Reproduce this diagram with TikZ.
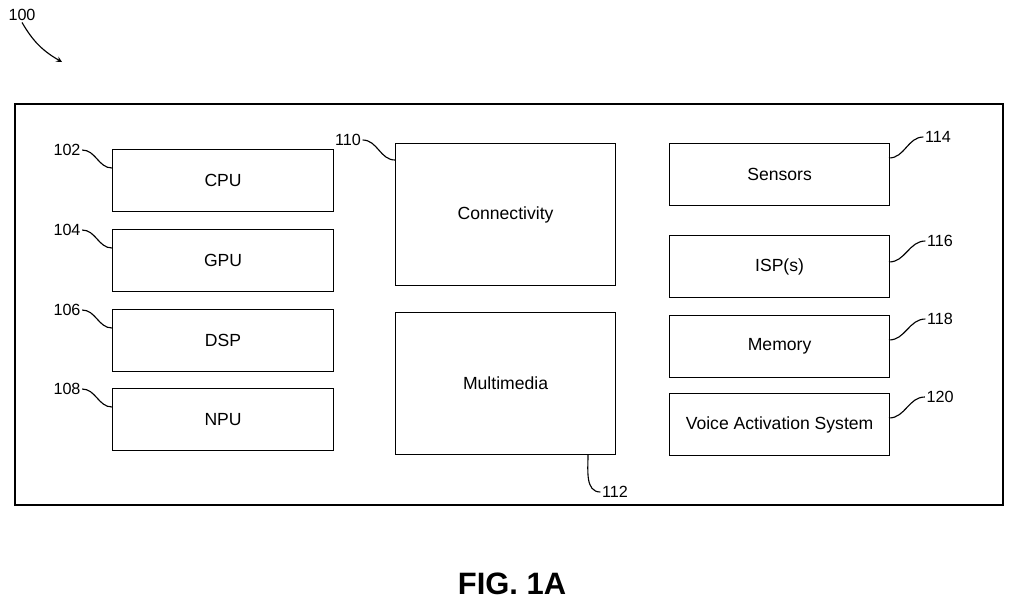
\documentclass[tikz,border=0pt]{standalone}
\usepackage{fontspec}
\setmainfont{Liberation Sans}
\begin{document}
\begin{tikzpicture}[x=0.025cm,y=-0.025cm,
    blk/.style={draw, thick, rectangle, anchor=north west, font=\fontsize{12.5}{14}\selectfont},
    lbl/.style={font=\fontsize{11.5}{13}\selectfont, inner sep=1pt},
    lead/.style={thick}]
    \useasboundingbox (0,0) rectangle (1024,607);
    \draw[thick] (15,104) rectangle (1003,505);

    \node[blk, minimum width=221*0.025cm, minimum height=62*0.025cm] (A) at (112,149) {CPU};
    \node[blk, minimum width=221*0.025cm, minimum height=62*0.025cm] (B) at (112,229) {GPU};
    \node[blk, minimum width=221*0.025cm, minimum height=62*0.025cm] (C) at (112,309) {DSP};
    \node[blk, minimum width=221*0.025cm, minimum height=62*0.025cm] (D) at (112,388) {NPU};

    \node[blk, minimum width=220*0.025cm, minimum height=142*0.025cm] (E) at (395,143) {Connectivity};
    \node[blk, minimum width=220*0.025cm, minimum height=142*0.025cm] (F) at (395,312) {Multimedia};

    \node[blk, minimum width=220*0.025cm, minimum height=62*0.025cm] (G) at (669,143) {Sensors};
    \node[blk, minimum width=220*0.025cm, minimum height=62*0.025cm] (H) at (669,235) {ISP(s)};
    \node[blk, minimum width=220*0.025cm, minimum height=62*0.025cm] (I) at (669,315) {Memory};
    \node[blk, minimum width=220*0.025cm, minimum height=62*0.025cm] (J) at (669,393) {Voice Activation System};

    \node[lbl] (lA) at (67,150) {102};
    \node[lbl] (lB) at (67,230) {104};
    \node[lbl] (lC) at (67,310) {106};
    \node[lbl] (lD) at (67,389) {108};
    \node[lbl] (lE) at (348,140) {110};
    \node[lbl] (lF) at (615,492) {112};
    \node[lbl] (lG) at (938,137) {114};
    \node[lbl] (lH) at (940,241) {116};
    \node[lbl] (lI) at (940,319) {118};
    \node[lbl] (lJ) at (940,397) {120};
    \node[lbl] (l0) at (22,15) {100};
    \coordinate (p0) at (62,62);

    \draw[lead] (lA.east) to[out=0,in=180] (112,168);
    \draw[lead] (lB.east) to[out=0,in=180] (112,248);
    \draw[lead] (lC.east) to[out=0,in=180] (112,328);
    \draw[lead] (lD.east) to[out=0,in=180] (112,407);
    \draw[lead] (lE.east) to[out=0,in=180] (395,160);
    \draw[lead] (588,455) to[out=-90,in=180] (lF.west);
    \draw[lead] (889,158) to[out=0,in=180] (lG.west);
    \draw[lead] (889,262) to[out=0,in=180] (lH.west);
    \draw[lead] (889,340) to[out=0,in=180] (lI.west);
    \draw[lead] (889,418) to[out=0,in=180] (lJ.west);
    \draw[lead, -stealth] (l0.south) to[out=-60,in=150] (p0);

    \node[font=\bfseries\fontsize{22}{26}\selectfont] (fig) at (512,584) {FIG. 1A};
\end{tikzpicture}
\end{document}
